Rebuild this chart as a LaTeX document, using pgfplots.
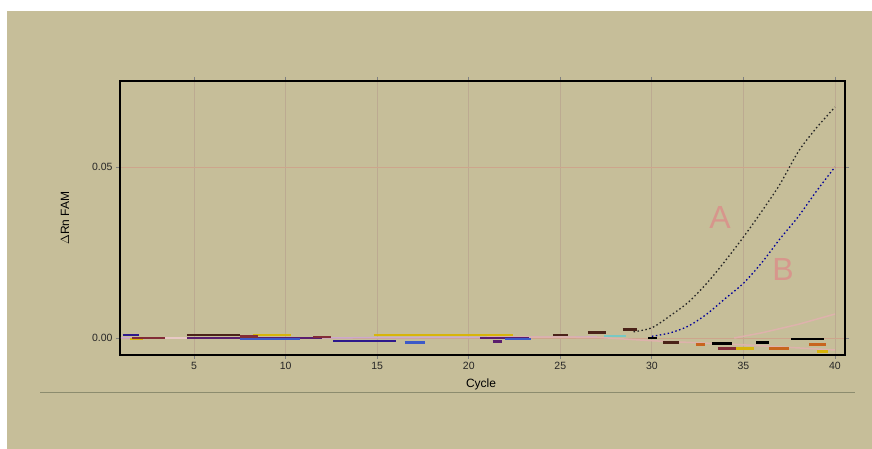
\documentclass[border=0pt]{standalone}
\usepackage{pgfplots}
\pgfplotsset{compat=1.18}
\usepackage{fontspec}
\setmainfont{Liberation Sans}
\definecolor{bgtan}{RGB}{198,190,153}
\definecolor{dbrown}{RGB}{75,35,25}
\definecolor{maroon}{RGB}{130,45,55}
\definecolor{dpurple}{RGB}{90,30,110}
\definecolor{dblue}{RGB}{45,25,140}
\definecolor{mblue}{RGB}{60,90,200}
\definecolor{yel}{RGB}{215,180,10}
\definecolor{cyn}{RGB}{120,200,195}
\definecolor{orng}{RGB}{200,100,30}
\definecolor{lpink}{RGB}{222,178,172}
\definecolor{lav}{RGB}{205,170,205}
\definecolor{labpink}{RGB}{215,150,140}
\definecolor{vgrid}{RGB}{188,170,145}
\definecolor{hgrid}{RGB}{205,165,140}
\definecolor{sepline}{RGB}{140,140,110}
\begin{document}
\begin{tikzpicture}
\fill[white] (0pt,0pt) rectangle (872pt,449pt);
\fill[bgtan] (7pt,0pt) rectangle (872pt,438pt);
\draw[sepline, line width=1pt] (40pt,56pt) -- (855pt,56pt);
\begin{axis}[
  at={(120pt,94pt)}, anchor=south west,
  scale only axis, width=725pt, height=274pt,
  xmin=0.95, xmax=40.55, ymin=-0.00497, ymax=0.07515,
  xtick={5,10,...,40}, ytick={0,0.05},
  scaled y ticks=false,
  yticklabel style={/pgf/number format/fixed, /pgf/number format/precision=2, /pgf/number format/fixed zerofill},
  /pgf/number format/assume math mode=true,
  tick label style={font=\fontsize{10.5}{10.5}\selectfont, text=black!85},
  axis line style={black, line width=2pt},
  tick align=outside, major tick length=4pt,
  tick style={gray, line width=0.8pt},
  xmajorgrids, ymajorgrids,
  x grid style={vgrid, line width=0.8pt},
  y grid style={hgrid, line width=0.8pt},
  xlabel={Cycle}, ylabel={$\Delta$Rn FAM},
  xlabel style={at={(axis description cs:0.498,-0.109)}, anchor=center, font=\fontsize{12}{12}\selectfont},
  ylabel style={at={(axis description cs:-0.076,0.5)}, anchor=center, rotate=0, font=\fontsize{12}{12}\selectfont},
  unbounded coords=jump,
  clip=true,
]
% faint thin lines
\addplot[lav, line width=1.5pt] coordinates {(1,0) (10,0) (20,0.0002) (27,0.0003)};
\addplot[lpink, line width=1.5pt] coordinates {(21,0.0003) (27,0.0002) (30,-0.0008) (35,-0.002) (40,-0.0035)};
\addplot[lpink, line width=1.5pt] coordinates {(34.5,0) (36,0.0015) (38,0.004) (40,0.007)};
% blocky segments near zero
\addplot[lpink!70!white, line width=2.8pt] coordinates {(3.4,0) (4.6,0)};
\addplot[dpurple, line width=2.8pt] coordinates {(4.6,0) (12,0) (nan,nan) (20.6,0) (23.3,0) (nan,nan) (21.3,-0.001) (21.8,-0.001)};
\addplot[mblue, line width=2.8pt] coordinates {(7.5,-0.0003) (10.8,-0.0003) (nan,nan) (16.5,-0.0012) (17.6,-0.0012) (nan,nan) (22,-0.0003) (23.4,-0.0003)};
\addplot[yel, line width=2.8pt] coordinates {(1.5,-0.0003) (2.2,-0.0003) (nan,nan) (8.2,0.0009) (10.3,0.0009) (nan,nan) (14.8,0.0009) (22.4,0.0009) (nan,nan) (34.4,-0.003) (35.6,-0.003) (nan,nan) (39,-0.004) (39.6,-0.004)};
\addplot[maroon, line width=2.8pt] coordinates {(1.6,0) (3.4,0) (nan,nan) (7.5,0.0004) (8.5,0.0004) (nan,nan) (11.5,0.0003) (12.5,0.0003) (nan,nan) (33.6,-0.003) (34.6,-0.003)};
\addplot[dblue, line width=2.8pt] coordinates {(1.1,0.0009) (2,0.0009) (nan,nan) (12.6,-0.0009) (16,-0.0009)};
\addplot[dbrown, line width=2.8pt] coordinates {(4.6,0.0009) (7.5,0.0009) (nan,nan) (24.6,0.0009) (25.4,0.0009) (nan,nan) (26.5,0.0015) (27.5,0.0015) (nan,nan) (28.4,0.0026) (29.2,0.0026) (nan,nan) (30.6,-0.0012) (31.5,-0.0012)};
\addplot[cyn, line width=2.8pt] coordinates {(27.4,0.0006) (28.6,0.0006)};
\addplot[orng, line width=2.8pt] coordinates {(32.4,-0.002) (32.9,-0.002) (nan,nan) (36.4,-0.003) (37.5,-0.003) (nan,nan) (38.6,-0.002) (39.5,-0.002)};
\addplot[black, line width=2.8pt] coordinates {(29.8,0) (30.3,0) (nan,nan) (33.3,-0.0015) (34.4,-0.0015) (nan,nan) (35.7,-0.0012) (36.4,-0.0012) (nan,nan) (37.6,-0.0003) (39.4,-0.0003)};
% amplification curves
\addplot[black!85, line width=1.3pt, dash pattern=on 1.5pt off 2.5pt, smooth] coordinates {
 (29,0.0018) (30,0.003) (31,0.0065) (32,0.0105) (33,0.016) (34,0.0225) (35,0.0295) (36,0.037) (37,0.045) (38,0.0545) (39,0.0615) (40,0.0675)};
\addplot[blue!60!black, line width=1.3pt, dash pattern=on 1.5pt off 2.5pt, smooth] coordinates {
 (30,0.0005) (31,0.0015) (32,0.0035) (33,0.007) (34,0.0115) (35,0.016) (36,0.022) (37,0.029) (38,0.0355) (39,0.043) (40,0.05)};
\node[labpink, font=\fontsize{32}{32}\selectfont] at (axis cs:33.72,0.0351) {A};
\node[labpink, font=\fontsize{32}{32}\selectfont] at (axis cs:37.16,0.0199) {B};
\end{axis}
\end{tikzpicture}
\end{document}
